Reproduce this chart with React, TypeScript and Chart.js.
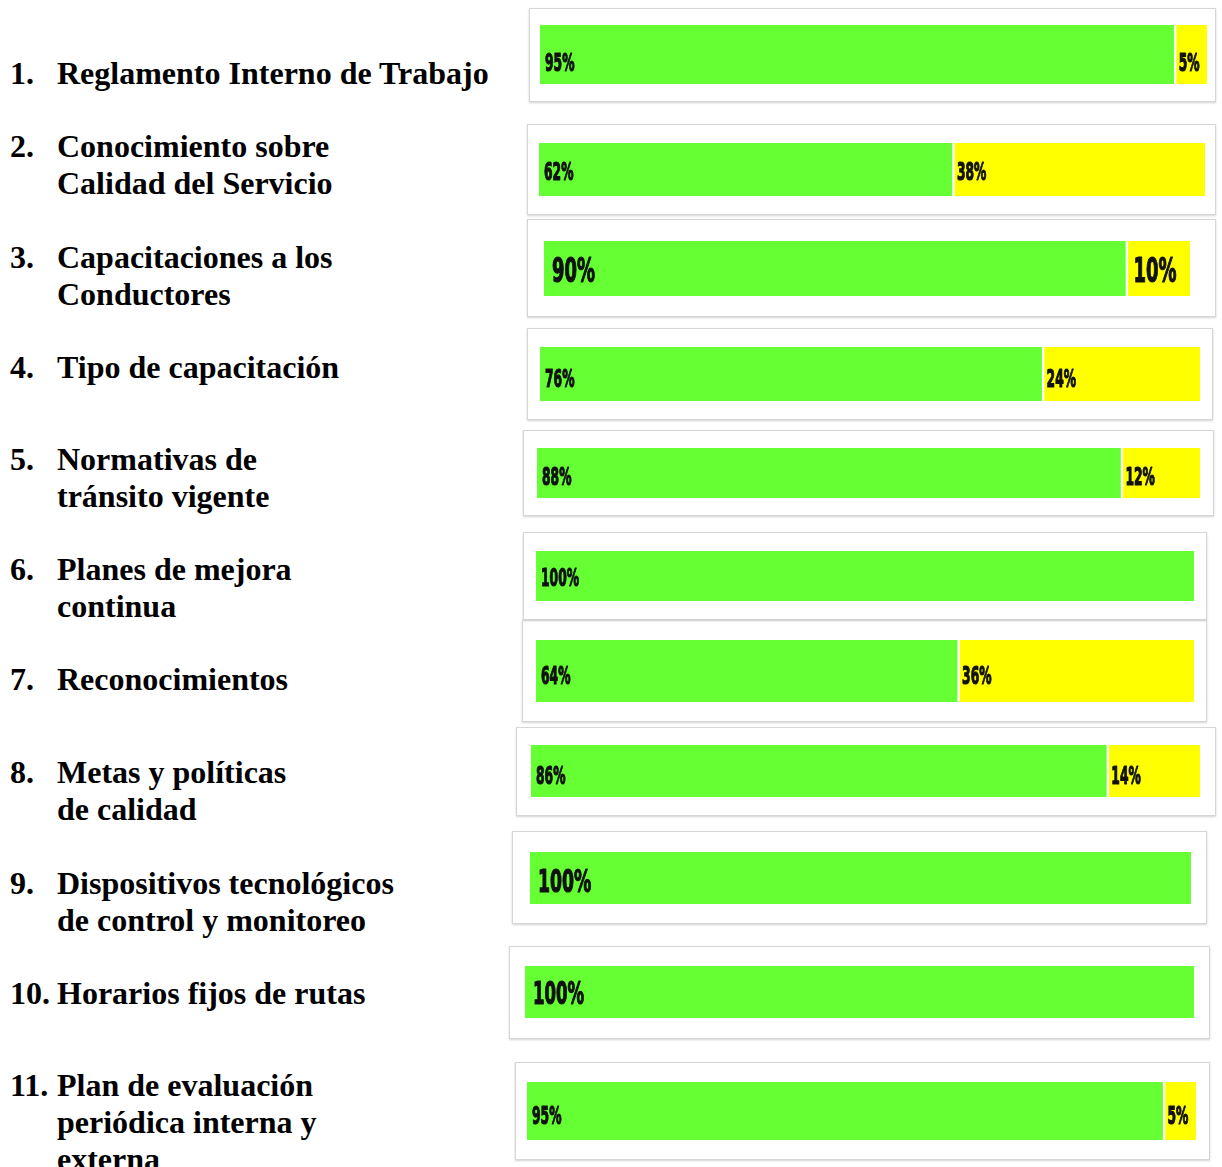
import React, { useEffect, useRef, useState } from "react";
import { Chart, registerables } from "chart.js";

Chart.register(...registerables);

// ---- data ----
const categoryNumbers = ["1.", "2.", "3.", "4.", "5.", "6.", "7.", "8.", "9.", "10.", "11."];
const categoryLines: string[][] = [
  ["Reglamento Interno de Trabajo"],
  ["Conocimiento sobre", "Calidad del Servicio"],
  ["Capacitaciones a los", "Conductores"],
  ["Tipo de capacitación"],
  ["Normativas de", "tránsito vigente"],
  ["Planes de mejora", "continua"],
  ["Reconocimientos"],
  ["Metas y políticas", "de calidad"],
  ["Dispositivos tecnológicos", "de control y monitoreo"],
  ["Horarios fijos de rutas"],
  ["Plan de evaluación", "periódica interna y", "externa"],
];
const yesValues = [95, 62, 90, 76, 88, 100, 64, 86, 100, 100, 95];
const noValues = [5, 38, 10, 24, 12, 0, 36, 14, 0, 0, 5];

const GREEN = "#66ff33";
const YELLOW = "#ffff00";

// ---- layout (page px) ----
const layout = [
  { x: 529, y: 8, w: 687, h: 94, bl: 540, br: 1207, bt: 25, bb: 84, fs: 19, sx: 0.72, dy: 10 },
  { x: 527, y: 124, w: 689, h: 91, bl: 539, br: 1205, bt: 143, bb: 196, fs: 19, sx: 0.72, dy: 4 },
  { x: 527, y: 219, w: 689, h: 98, bl: 544, br: 1190, bt: 241, bb: 296, fs: 25, sx: 0.8, dy: 5 },
  { x: 527, y: 328, w: 686, h: 92, bl: 540, br: 1200, bt: 347, bb: 401, fs: 19, sx: 0.72, dy: 6 },
  { x: 523, y: 430, w: 691, h: 86, bl: 537, br: 1200, bt: 448, bb: 498, fs: 19, sx: 0.72, dy: 5 },
  { x: 523, y: 532, w: 684, h: 88, bl: 536, br: 1194, bt: 551, bb: 601, fs: 19, sx: 0.72, dy: 3 },
  { x: 522, y: 620, w: 685, h: 102, bl: 536, br: 1194, bt: 640, bb: 702, fs: 19, sx: 0.72, dy: 6 },
  { x: 516, y: 727, w: 700, h: 89, bl: 531, br: 1200, bt: 745, bb: 797, fs: 19, sx: 0.72, dy: 6 },
  { x: 512, y: 831, w: 695, h: 93, bl: 530, br: 1191, bt: 852, bb: 904, fs: 24, sx: 0.8, dy: 6 },
  { x: 509, y: 946, w: 701, h: 93, bl: 525, br: 1194, bt: 966, bb: 1018, fs: 23, sx: 0.8, dy: 4 },
  { x: 515, y: 1062, w: 695, h: 98, bl: 527, br: 1196, bt: 1082, bb: 1140, fs: 19, sx: 0.72, dy: 6 },
];
const labelCenters = [73, 146, 257, 367, 459, 569, 679, 772, 883, 993, 1085];

function makeLabelPlugin(fs: number, sx: number, dy: number) {
  return {
    id: "valueLabels",
    afterDatasetsDraw(chart: any) {
      const ctx = chart.ctx;
      chart.data.datasets.forEach((ds: any, di: number) => {
        const meta = chart.getDatasetMeta(di);
        meta.data.forEach((el: any, i: number) => {
          const v = ds.data[i];
          if (!v) return;
          const left = Math.min(el.x, el.base);
          ctx.save();
          ctx.translate(left + (fs > 21 ? 8 : 5), el.y + dy);
          ctx.scale(sx, 1.35);
          ctx.font = "bold " + fs + "px 'DejaVu Sans Condensed', 'DejaVu Sans', sans-serif";
          ctx.fillStyle = "#111";
          ctx.strokeStyle = "#111";
          ctx.lineWidth = 0.9;
          ctx.lineJoin = "round";
          ctx.textBaseline = "middle";
          ctx.textAlign = "left";
          ctx.fillText(v + "%", 0, 0);
          ctx.strokeText(v + "%", 0, 0);
          ctx.restore();
        });
      });
    },
  };
}

function BarBox({ idx }: { idx: number }) {
  const ref = useRef<HTMLCanvasElement | null>(null);
  const [err, setErr] = useState("");
  const L = layout[idx];
  useEffect(() => {
    if (!ref.current) return;
    let chart: any = null;
    try {
      chart = new Chart(ref.current, {
        type: "bar",
        data: {
          labels: [categoryLines[idx].join(" ")],
          datasets: [
            {
              label: "Sí",
              data: [yesValues[idx]],
              backgroundColor: GREEN,
              borderWidth: 0,
              barPercentage: 1,
              categoryPercentage: 1,
            },
            {
              label: "No",
              data: [noValues[idx]],
              backgroundColor: YELLOW,
              borderColor: "#ffffff",
              borderWidth: { left: 3, top: 0, right: 0, bottom: 0 },
              borderSkipped: false,
              barPercentage: 1,
              categoryPercentage: 1,
            },
          ],
        },
        options: {
          indexAxis: "y",
          responsive: false,
          animation: false,
          layout: {
            padding: {
              left: L.bl - L.x,
              right: L.x + L.w - L.br,
              top: L.bt - L.y,
              bottom: L.y + L.h - L.bb,
            },
          },
          scales: {
            x: { stacked: true, min: 0, max: 100, display: false },
            y: { stacked: true, display: false },
          },
          plugins: {
            legend: { display: false },
            tooltip: { enabled: false },
          },
        },
        plugins: [makeLabelPlugin(L.fs, L.sx, L.dy)],
      } as any);
    } catch (e: any) {
      setErr(String(e && e.stack ? e.stack : e));
    }
    return () => {
      if (chart) chart.destroy();
    };
  }, [idx]);
  return (
    <div style={{ position: "absolute", left: L.x, top: L.y, width: L.w, height: L.h }}>
      <canvas ref={ref} width={L.w} height={L.h} style={{ display: "block", width: L.w, height: L.h }} />
      <div
        style={{
          position: "absolute",
          left: 0,
          top: 0,
          width: L.w - 2,
          height: L.h - 2,
          border: "1px solid #d6d6d6",
          boxShadow: "0 1px 2px rgba(0,0,0,0.18)",
          pointerEvents: "none",
        }}
      />
      {err ? <div style={{ position: "absolute", left: 0, top: 0, fontSize: 10, color: "red" }}>{err}</div> : null}
    </div>
  );
}

export default function App() {
  const font = "'Liberation Serif', 'Times New Roman', Times, serif";
  return (
    <div style={{ position: "absolute", left: 0, top: 0, width: 1222, height: 1160 }}>
      {categoryLines.map((lines, i) => (
        <div
          key={"l" + i}
          style={{
            position: "absolute",
            left: 0,
            top: labelCenters[i] - 18.5,
            width: 505,
            fontFamily: font,
            fontWeight: "bold",
            fontSize: 32,
            lineHeight: "37px",
            color: "#000",
            whiteSpace: "nowrap",
          }}
        >
          <span style={{ position: "absolute", left: 10, top: 0 }}>{categoryNumbers[i]}</span>
          <div style={{ position: "absolute", left: 57, top: 0 }}>
            {lines.map((t, j) => (
              <div key={j}>{t}</div>
            ))}
          </div>
        </div>
      ))}
      {layout.map((_, i) => (
        <BarBox key={"b" + i} idx={i} />
      ))}
    </div>
  );
}
